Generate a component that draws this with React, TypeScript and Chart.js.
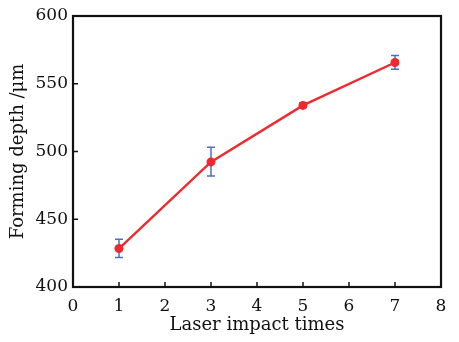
import React, { useEffect, useRef } from "react";
import { Chart, registerables } from "chart.js";

Chart.register(...registerables);

const impactTimes = [1, 3, 5, 7];
const depthMean = [428.4, 492.3, 534, 565.7];
const depthLow = [421.8, 482, 532.5, 560.7];
const depthHigh = [435.3, 503.1, 535.8, 570.8];
const xTicks = [0, 1, 2, 3, 4, 5, 6, 7, 8];
const yTicks = [400, 450, 500, 550, 600];

const FONT = "DejaVu Serif";

const framePlugin = {
  id: "frameAndBars",
  afterDatasetsDraw(chart: any) {
    const { ctx, scales } = chart;
    const xs = scales.x;
    const ys = scales.y;
    ctx.save();
    ctx.strokeStyle = "#4f6fc4";
    ctx.lineWidth = 1.5;
    impactTimes.forEach((t, i) => {
      const px = xs.getPixelForValue(t);
      const lo = ys.getPixelForValue(depthLow[i]);
      const hi = ys.getPixelForValue(depthHigh[i]);
      ctx.beginPath();
      ctx.moveTo(px, lo);
      ctx.lineTo(px, hi);
      ctx.moveTo(px - 4, lo);
      ctx.lineTo(px + 4, lo);
      ctx.moveTo(px - 4, hi);
      ctx.lineTo(px + 4, hi);
      ctx.stroke();
    });
    // redraw points on top of bars
    ctx.fillStyle = "#ee2a30";
    impactTimes.forEach((t, i) => {
      ctx.beginPath();
      ctx.arc(xs.getPixelForValue(t), ys.getPixelForValue(depthMean[i]), 4.5, 0, Math.PI * 2);
      ctx.fill();
    });
    ctx.restore();
  },
  afterDraw(chart: any) {
    const { ctx, chartArea, scales } = chart;
    const xs = scales.x;
    const ys = scales.y;
    ctx.save();
    ctx.strokeStyle = "#111";
    ctx.lineWidth = 2.2;
    ctx.strokeRect(chartArea.left, chartArea.top, chartArea.right - chartArea.left, chartArea.bottom - chartArea.top);
    ctx.lineWidth = 1.5;
    ctx.beginPath();
    xTicks.forEach((t) => {
      const px = xs.getPixelForValue(t);
      ctx.moveTo(px, chartArea.bottom);
      ctx.lineTo(px, chartArea.bottom - 5);
    });
    yTicks.forEach((t) => {
      const py = ys.getPixelForValue(t);
      ctx.moveTo(chartArea.left, py);
      ctx.lineTo(chartArea.left + 5, py);
    });
    ctx.stroke();
    ctx.restore();
  },
};

export default function App() {
  const ref = useRef<HTMLCanvasElement>(null);
  useEffect(() => {
    if (!ref.current) return;
    const chart = new Chart(ref.current, {
      type: "line",
      data: {
        datasets: [
          {
            data: impactTimes.map((t, i) => ({ x: t, y: depthMean[i] })),
            borderColor: "#ee2a30",
            backgroundColor: "#ee2a30",
            borderWidth: 2.4,
            pointRadius: 0,
            tension: 0,
          },
        ],
      },
      options: {
        animation: false,
        responsive: false,
        layout: { padding: { top: 16, right: 18, left: 8, bottom: 6 } },
        plugins: { legend: { display: false }, tooltip: { enabled: false } },
        scales: {
          x: {
            type: "linear",
            min: 0,
            max: 8,
            afterBuildTicks: (s: any) => {
              s.ticks = xTicks.map((v) => ({ value: v }));
            },
            afterFit: (s: any) => {
              s.height = 49;
            },
            grid: { display: false, drawTicks: false },
            border: { display: false },
            ticks: { color: "#111", font: { family: FONT, size: 17 }, padding: 9 },
            title: {
              display: true,
              text: "Laser impact times",
              color: "#111",
              font: { family: FONT, size: 18 },
              padding: { top: 0, bottom: 0 },
            },
          },
          y: {
            type: "linear",
            min: 400,
            max: 600,
            afterBuildTicks: (s: any) => {
              s.ticks = yTicks.map((v) => ({ value: v }));
            },
            afterFit: (s: any) => {
              s.width = 65;
            },
            grid: { display: false, drawTicks: false },
            border: { display: false },
            ticks: { color: "#111", font: { family: FONT, size: 17 }, padding: 5 },
            title: {
              display: true,
              text: "Forming depth /μm",
              color: "#111",
              font: { family: FONT, size: 18 },
              padding: { top: 0, bottom: 2 },
            },
          },
        },
      },
      plugins: [framePlugin],
    });
    return () => chart.destroy();
  }, []);
  return (
    <div style={{ position: "fixed", left: 0, top: 0, width: 459, height: 342, background: "#fff" }}>
      <canvas ref={ref} width={459} height={342} style={{ display: "block" }} />
    </div>
  );
}
